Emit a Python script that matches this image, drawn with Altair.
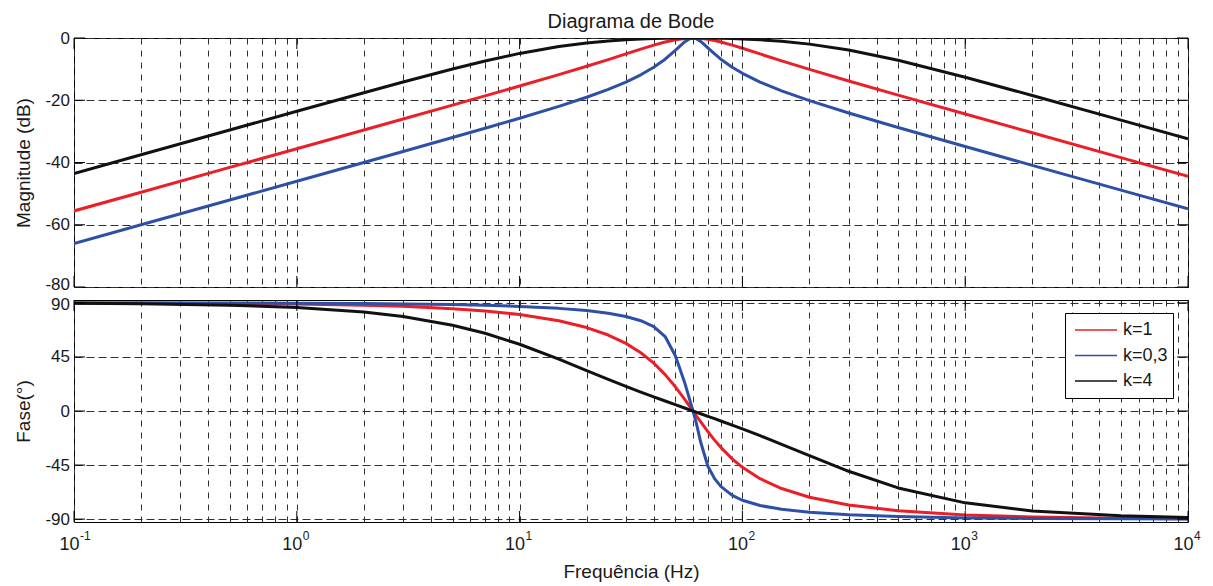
import altair as alt
import pandas as pd

FONT = "Liberation Sans, Arial, Helvetica, sans-serif"
TXT = "#1a1a1a"

# ---- data ----
freq = [0.1, 0.2, 0.5, 1, 2, 3, 5, 7, 10, 15, 20, 25, 30, 35, 40, 45, 50, 55, 58, 60,
        62, 65, 70, 75, 80, 90, 100, 120, 150, 200, 300, 500, 1000, 2000, 5000, 10000]

mag_k1 = [-55.56, -49.54, -41.58, -35.56, -29.54, -26.01, -21.55, -18.60, -15.44, -11.78,
          -9.09, -6.93, -5.12, -3.58, -2.29, -1.27, -0.55, -0.13, -0.02, 0.0,
          -0.02, -0.11, -0.40, -0.80, -1.27, -2.29, -3.30, -5.12, -7.33, -10.09,
          -13.81, -18.35, -24.42, -30.45, -38.42, -44.44]
mag_k03 = [-66.02, -60.00, -52.04, -46.02, -39.99, -36.46, -31.98, -29.00, -25.79, -21.97,
           -19.03, -16.50, -14.15, -11.82, -9.40, -6.80, -3.97, -1.26, -0.22, 0.0,
           -0.20, -1.09, -3.15, -5.12, -6.80, -9.40, -11.35, -14.15, -16.99, -20.14,
           -24.10, -28.75, -34.87, -40.91, -48.87, -54.89]
mag_k4 = [-43.52, -37.50, -29.55, -23.54, -17.57, -14.13, -9.95, -7.38, -4.95, -2.74,
          -1.60, -0.95, -0.57, -0.33, -0.18, -0.09, -0.04, -0.01, 0.0, 0.0,
          0.0, -0.01, -0.03, -0.05, -0.09, -0.18, -0.30, -0.57, -1.06, -1.97,
          -3.87, -7.17, -12.61, -18.47, -26.38, -32.40]

ph_k1 = [89.90, 89.81, 89.52, 89.04, 88.09, 87.13, 85.20, 83.25, 80.27, 75.07,
         69.44, 63.24, 56.31, 48.52, 39.81, 30.26, 20.14, 9.88, 3.88, 0.0,
         -3.75, -9.10, -17.20, -24.23, -30.26, -39.81, -46.85, -56.31, -64.54, -71.75,
         -78.23, -83.06, -86.55, -88.28, -89.31, -89.66]
ph_k03 = [89.97, 89.94, 89.86, 89.71, 89.43, 89.14, 88.56, 87.97, 87.06, 85.43,
          83.58, 81.40, 78.69, 75.14, 70.20, 62.00, 46.00, 24.00, 9.50, 0.0,
          -9.50, -26.00, -46.00, -56.31, -62.78, -70.20, -74.29, -78.69, -81.87, -84.35,
          -86.42, -87.91, -88.97, -89.48, -89.79, -89.90]
ph_k4 = [89.62, 89.24, 88.09, 86.18, 82.40, 78.66, 71.44, 64.68, 55.56, 43.15,
         33.69, 26.38, 20.56, 15.79, 11.77, 8.30, 5.24, 2.49, 0.97, 0.0,
         -0.94, -2.29, -4.42, -6.42, -8.30, -11.77, -14.93, -20.56, -27.70, -37.18,
         -50.19, -64.03, -76.46, -83.15, -87.25, -88.63]

series = ["k=1", "k=0,3", "k=4"]
colors = ["#ea1f27", "#2d4fa5", "#111111"]

x_ticks = [0.1, 0.2, 0.3, 0.4, 0.5, 0.6, 0.7, 0.8, 0.9,
           1, 2, 3, 4, 5, 6, 7, 8, 9,
           10, 20, 30, 40, 50, 60, 70, 80, 90,
           100, 200, 300, 400, 500, 600, 700, 800, 900,
           1000, 2000, 3000, 4000, 5000, 6000, 7000, 8000, 9000, 10000]
decades = [0.1, 1, 10, 100, 1000, 10000]
exponents = ["-1", "0", "1", "2", "3", "4"]
mag_ticks = [-80, -60, -40, -20, 0]
phase_ticks = [-90, -45, 0, 45, 90]

# ---- tables ----
rows = []
for s, m, p in zip(series, [mag_k1, mag_k03, mag_k4], [ph_k1, ph_k03, ph_k4]):
    for f, mv, pv in zip(freq, m, p):
        rows.append({"f": f, "mag": mv, "phase": pv, "k": s})
df = pd.DataFrame(rows)
dec_df = pd.DataFrame({"f": decades, "e": exponents})
magt_df = pd.DataFrame({"mag": mag_ticks})
pht_df = pd.DataFrame({"phase": phase_ticks})

W = 1114
H1 = 249
H2 = 222

xscale = alt.Scale(type="log", domain=[0.1, 10000], nice=False)
magscale = alt.Scale(domain=[-80, 0], nice=False, zero=False)
phscale = alt.Scale(domain=[-92.4, 92.4], nice=False, zero=False)
cscale = alt.Scale(domain=series, range=colors)

GRID = "#303030"

x_axis_top = alt.Axis(values=x_ticks, grid=True, gridColor=GRID, gridDash=[6, 6], gridWidth=1,
                      labels=False, ticks=False, domain=False, title=None)
x_axis_bot = alt.Axis(values=x_ticks, grid=True, gridColor=GRID, gridDash=[6, 6], gridWidth=1,
                      ticks=False, domain=False,
                      labelExpr="abs(log(datum.value)/LN10 - round(log(datum.value)/LN10)) < 0.001 ? '10' : ''",
                      labelFont=FONT, labelFontSize=18, labelColor=TXT, labelPadding=13,
                      labelOffset=-5, labelFlush=False, labelOverlap=False,
                      title="Frequência (Hz)", titleFont=FONT, titleFontSize=19,
                      titleFontWeight="normal", titleColor=TXT, titlePadding=9)
y_axis_mag = alt.Axis(values=mag_ticks, grid=True, gridColor=GRID, gridDash=[8, 4], gridWidth=1,
                      ticks=False, domain=False, labelExpr="'' + datum.value",
                      labelFont=FONT, labelFontSize=17, labelColor=TXT, labelPadding=4.5,
                      labelOffset={"condition": {"test": "datum.value == -80", "value": -3}, "value": 0},
                      labelOverlap=False, labelFlush=False,
                      title="Magnitude (dB)", titleFont=FONT, titleFontSize=19,
                      titleFontWeight="normal", titleColor=TXT, titlePadding=11.5)
y_axis_ph = alt.Axis(values=phase_ticks, grid=True, gridColor=GRID, gridDash=[8, 4], gridWidth=1,
                     ticks=False, domain=False, labelExpr="'' + datum.value",
                     labelFont=FONT, labelFontSize=17, labelColor=TXT, labelPadding=4.5,
                     labelOffset={"condition": {"test": "datum.value == 90", "value": 2}, "value": 0},
                     labelOverlap=False, labelFlush=False,
                     title="Fase(°)", titleFont=FONT, titleFontSize=19,
                     titleFontWeight="normal", titleColor=TXT, titlePadding=11.5)

legend = alt.Legend(title=None, orient="none", legendX=991, legendY=13,
                    symbolType="stroke", symbolSize=1764, symbolStrokeWidth=1.4,
                    labelFont=FONT, labelFontSize=18, labelColor=TXT,
                    padding=5, strokeColor="black", fillColor="white",
                    clipHeight=24, rowPadding=1.5, symbolOffset=4, labelOffset=5,
                    cornerRadius=0)


def curves(yfield, yscale, yaxis, xaxis, leg):
    layers = []
    for s in series:
        layers.append(
            alt.Chart(df).transform_filter(alt.datum.k == s)
            .mark_line(strokeWidth=3, strokeJoin="round", clip=True)
            .encode(
                x=alt.X("f:Q", scale=xscale, axis=xaxis),
                y=alt.Y(f"{yfield}:Q", scale=yscale, axis=yaxis),
                color=alt.Color("k:N", scale=cscale, legend=leg),
            )
        )
    return layers


def edge_ticks(yfield, yscale, ytick_df, h, xaxis, yaxis):
    base_x = alt.Chart(dec_df).mark_rule(color="black", strokeWidth=1)
    top_t = base_x.encode(x=alt.X("f:Q", scale=xscale, axis=xaxis), y=alt.value(0), y2=alt.value(11))
    bot_t = base_x.encode(x=alt.X("f:Q", scale=xscale, axis=xaxis), y=alt.value(h), y2=alt.value(h - 11))
    base_y = alt.Chart(ytick_df).mark_rule(color="black", strokeWidth=1)
    left_t = base_y.encode(y=alt.Y(f"{yfield}:Q", scale=yscale, axis=yaxis), x=alt.value(0), x2=alt.value(11))
    right_t = base_y.encode(y=alt.Y(f"{yfield}:Q", scale=yscale, axis=yaxis), x=alt.value(W), x2=alt.value(W - 11))
    return [top_t, bot_t, left_t, right_t]


top = alt.layer(
    *curves("mag", magscale, y_axis_mag, x_axis_top, None),
    *edge_ticks("mag", magscale, magt_df, H1, x_axis_top, y_axis_mag),
).properties(
    width=W, height=H1,
    title=alt.TitleParams("Diagrama de Bode", font=FONT, fontSize=20, fontWeight="normal",
                          color=TXT, offset=-3, anchor="middle", frame="group"),
)

exp_text = alt.Chart(dec_df).mark_text(align="left", baseline="top", dx=6, fontSize=12,
                                       font=FONT, color=TXT).encode(
    x=alt.X("f:Q", scale=xscale, axis=x_axis_bot),
    y=alt.value(231),
    text="e:N",
)

bottom = alt.layer(
    *curves("phase", phscale, y_axis_ph, x_axis_bot, legend),
    *edge_ticks("phase", phscale, pht_df, H2, x_axis_bot, y_axis_ph),
    exp_text,
).properties(width=W, height=H2)

chart = alt.vconcat(top, bottom, spacing=13, bounds="flush").resolve_scale(
    color="independent"
).configure_view(stroke="black", strokeWidth=1).properties(
    padding={"left": 5, "top": 3, "right": 0, "bottom": 0}
)

chart.save("out.html", embed_options={"renderer": "svg", "actions": False})
